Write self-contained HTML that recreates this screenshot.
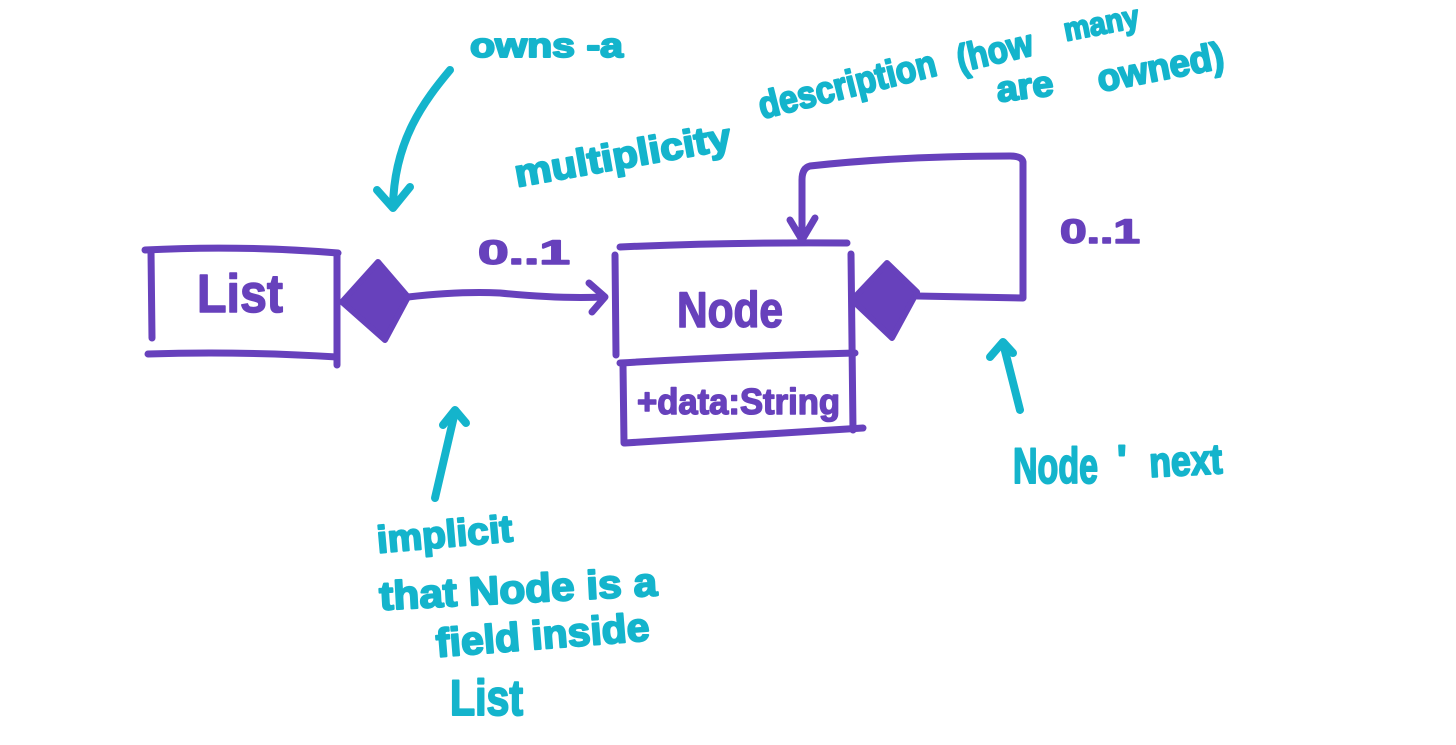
<!DOCTYPE html>
<html>
<head>
<meta charset="utf-8">
<style>
  html, body { margin:0; padding:0; background:#ffffff; }
  body { width:1456px; height:745px; overflow:hidden; }
  svg { display:block; }
  .p { fill:none; stroke:#6741BC; stroke-width:7; stroke-linecap:round; stroke-linejoin:round; }
  .c { fill:none; stroke:#14B4CC; stroke-width:8; stroke-linecap:round; stroke-linejoin:round; }
  .pt { font-family:"Liberation Sans", sans-serif; font-weight:bold; fill:#6741BC; stroke:#6741BC; stroke-width:1.5; stroke-linejoin:round; }
  .ct { font-family:"Liberation Sans", sans-serif; font-weight:bold; fill:#14B4CC; stroke:#14B4CC; stroke-width:2; stroke-linejoin:round; }
</style>
</head>
<body>
<svg width="1456" height="745" viewBox="0 0 1456 745" xmlns="http://www.w3.org/2000/svg">
  <rect width="1456" height="745" fill="#ffffff"/>

  <!-- List box -->
  <path class="p" d="M145,250 Q240,245 338,253"/>
  <path class="p" d="M151,251 L152,338"/>
  <path class="p" d="M337,254 L337,365"/>
  <path class="p" d="M148,354 Q240,351 337,357"/>
  <text class="pt" x="197" y="312" font-size="54" textLength="86" lengthAdjust="spacingAndGlyphs">List</text>

  <!-- List diamond + connector -->
  <polygon points="342,302 378,262 408,297 385,340" fill="#6741BC" stroke="#6741BC" stroke-width="6" stroke-linejoin="round"/>
  <path class="p" d="M408,297 Q460,291 500,293 Q560,299 603,297"/>
  <path class="p" d="M589,283 L605,297 L592,312"/>
  <text class="pt" x="478" y="264" font-size="34" textLength="92" lengthAdjust="spacingAndGlyphs">0..1</text>

  <!-- Node box -->
  <path class="p" d="M620,247 Q730,242 847,243"/>
  <path class="p" d="M615,255 L616,355"/>
  <path class="p" d="M620,363 Q740,356 855,353"/>
  <path class="p" d="M623,365 L624,443"/>
  <path class="p" d="M851,254 L853,430"/>
  <path class="p" d="M625,443 Q740,436 863,428"/>
  <text class="pt" x="677" y="327" font-size="50" textLength="106" lengthAdjust="spacingAndGlyphs">Node</text>
  <text class="pt" x="637" y="414" font-size="36" textLength="203" lengthAdjust="spacingAndGlyphs">+data:String</text>

  <!-- Node self-loop -->
  <polygon points="852,300 887,263 917,292 892,338" fill="#6741BC" stroke="#6741BC" stroke-width="6" stroke-linejoin="round"/>
  <path class="p" d="M917,296 L1023,298 L1023,162 Q1022,156 1010,156 Q900,156 810,166 Q802,168 802,180 L802,240"/>
  <path class="p" d="M790,220 L802,240 L815,218"/>
  <text class="pt" x="1060" y="243" font-size="34" textLength="80" lengthAdjust="spacingAndGlyphs">0..1</text>

  <!-- owns-a annotation -->
  <text class="ct" x="470" y="57" font-size="34" textLength="153" lengthAdjust="spacingAndGlyphs">owns -a</text>
  <path class="c" d="M450,70 C425,100 394,140 393,207"/>
  <path class="c" d="M377,190 L393,208 L410,187"/>

  <!-- multiplicity annotation -->
  <text class="ct" x="517" y="187" font-size="38" textLength="219" lengthAdjust="spacingAndGlyphs" transform="rotate(-10 517 187)">multiplicity</text>
  <text class="ct" x="762" y="119" font-size="38" textLength="182" lengthAdjust="spacingAndGlyphs" transform="rotate(-14 762 119)">description</text>
  <text class="ct" x="960" y="72" font-size="38" textLength="77" lengthAdjust="spacingAndGlyphs" transform="rotate(-13 960 72)">(how</text>
  <text class="ct" x="1066" y="41" font-size="32" textLength="76" lengthAdjust="spacingAndGlyphs" transform="rotate(-11 1066 41)">many</text>
  <text class="ct" x="998" y="102" font-size="36" textLength="57" lengthAdjust="spacingAndGlyphs" transform="rotate(-7 998 102)">are</text>
  <text class="ct" x="1100" y="92" font-size="38" textLength="128" lengthAdjust="spacingAndGlyphs" transform="rotate(-11 1100 92)">owned)</text>

  <!-- implicit annotation -->
  <path class="c" d="M435,498 L455,412"/>
  <path class="c" d="M443,425 L455,410 L466,423"/>
  <text class="ct" x="378" y="553" font-size="38" textLength="136" lengthAdjust="spacingAndGlyphs" transform="rotate(-5 378 553)">implicit</text>
  <text class="ct" x="380" y="610" font-size="40" textLength="278" lengthAdjust="spacingAndGlyphs" transform="rotate(-3 380 610)">that Node is a</text>
  <text class="ct" x="437" y="657" font-size="40" textLength="214" lengthAdjust="spacingAndGlyphs" transform="rotate(-4.5 437 657)">field inside</text>
  <text class="ct" x="450" y="715" font-size="50" textLength="73" lengthAdjust="spacingAndGlyphs">List</text>

  <!-- Node next annotation -->
  <path class="c" d="M1020,410 Q1010,370 1003,343"/>
  <path class="c" d="M990,357 L1003,342 L1013,353"/>
  <text class="ct" x="1013" y="483" font-size="50" textLength="85" lengthAdjust="spacingAndGlyphs">Node</text>
  <text class="ct" x="1117" y="473" font-size="40">'</text>
  <text class="ct" x="1150" y="477" font-size="42" textLength="73" lengthAdjust="spacingAndGlyphs" transform="rotate(-3 1150 477)">next</text>
</svg>
</body>
</html>
